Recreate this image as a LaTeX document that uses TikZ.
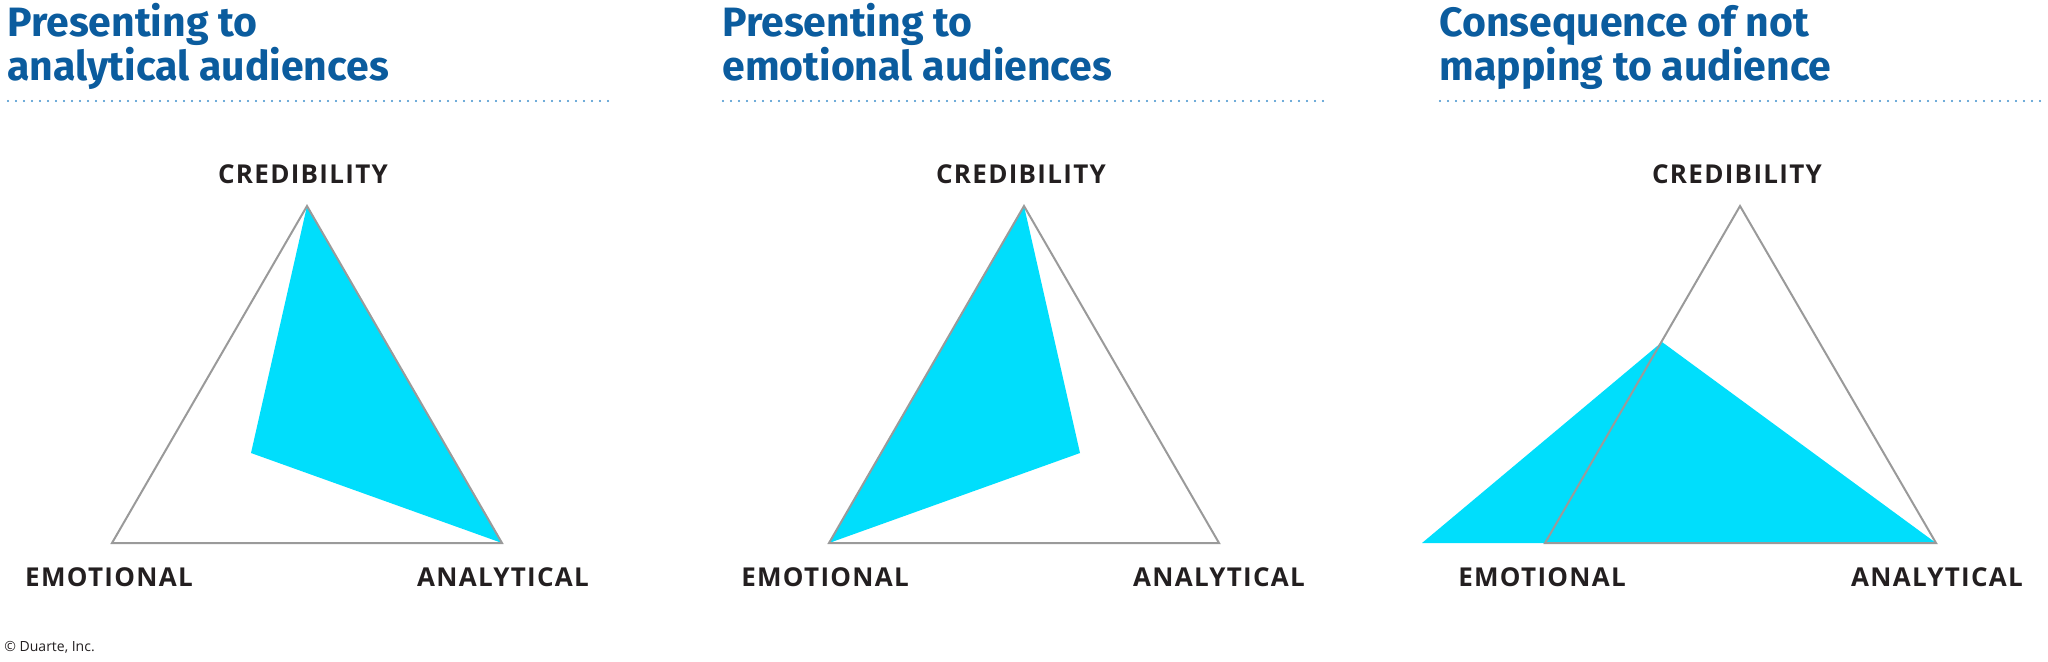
\documentclass[tikz,border=0pt]{standalone}
\usepackage{fontspec}
\setmainfont{Open Sans}
\newfontfamily\titlefont{Fira Sans}
\newfontfamily\labelfont[LetterSpace=5]{Open Sans}
\definecolor{tblue}{HTML}{0B5C9E}
\definecolor{cyanfill}{HTML}{00DEFC}
\definecolor{edgegray}{HTML}{9A9A9A}
\definecolor{dotblue}{HTML}{3E8FCB}
\definecolor{labelink}{HTML}{231F20}
\tikzset{
  title/.style={anchor=base west, inner sep=0pt, text=tblue, font=\titlefont\fontsize{20.5}{22}\selectfont\bfseries},
  axislabel/.style={anchor=base, inner sep=0pt, text=labelink, font=\labelfont\fontsize{13}{15}\selectfont\bfseries},
  dotrule/.style={dotblue, line width=1.2pt, line cap=round, dash pattern=on 0pt off 4pt},
  tri/.style={edgegray, line width=1pt, line join=miter},
  blob/.style={fill=cyanfill, draw=none},
}
\begin{document}
\begin{tikzpicture}[x=0.5pt,y=-0.5pt]
\useasboundingbox (0,0) rectangle (2048,661);
% ---------- titles ----------
\node[title] (t1a) at (7,36) {Presenting to};
\node[title] (t1b) at (7,80) {analytical audiences};
\node[title] (t2a) at (722,36) {Presenting to};
\node[title] (t2b) at (722,80) {emotional audiences};
\node[title] (t3a) at (1439,36) {Consequence of not};
\node[title] (t3b) at (1439,80) {mapping to audience};
\coordinate (d1a) at (8,101); \coordinate (d1b) at (610,101);
\coordinate (d2a) at (723,101); \coordinate (d2b) at (1328,101);
\coordinate (d3a) at (1440,101); \coordinate (d3b) at (2046,101);
\draw[dotrule] (d1a) -- (d1b);
\draw[dotrule] (d2a) -- (d2b);
\draw[dotrule] (d3a) -- (d3b);
% ---------- panel 1 ----------
\coordinate (c1) at (307,206); \coordinate (e1) at (112,543); \coordinate (a1) at (502,543);
\coordinate (p1) at (251,453);
\fill[blob] (c1) -- (a1) -- (p1) -- cycle;
\draw[tri] (c1) -- (a1) -- (e1) -- cycle;
\node[axislabel] (lc1) at (303,183) {CREDIBILITY};
\node[axislabel] (le1) at (109,586) {EMOTIONAL};
\node[axislabel] (la1) at (503,586) {ANALYTICAL};
% ---------- panel 2 ----------
\coordinate (c2) at (1024,206); \coordinate (e2) at (829,543); \coordinate (a2) at (1219,543);
\coordinate (p2) at (1080,453);
\fill[blob] (c2) -- (p2) -- (e2) -- cycle;
\draw[tri] (c2) -- (a2) -- (e2) -- cycle;
\node[axislabel] (lc2) at (1021,183) {CREDIBILITY};
\node[axislabel] (le2) at (825,586) {EMOTIONAL};
\node[axislabel] (la2) at (1219,586) {ANALYTICAL};
% ---------- panel 3 ----------
\coordinate (c3) at (1740,206); \coordinate (e3) at (1545,543); \coordinate (a3) at (1936,543);
\coordinate (q3) at (1422,543); \coordinate (p3) at (1662,342);
\fill[blob] (q3) -- (p3) -- (a3) -- cycle;
\draw[tri] (c3) -- (a3) -- (e3) -- cycle;
\node[axislabel] (lc3) at (1737,183) {CREDIBILITY};
\node[axislabel] (le3) at (1542,586) {EMOTIONAL};
\node[axislabel] (la3) at (1937,586) {ANALYTICAL};
% ---------- credit ----------
\node[anchor=base west, inner sep=0pt, text=labelink, font=\fontsize{7}{8}\selectfont] (credit) at (4,651) {© Duarte, Inc.};
\end{tikzpicture}
\end{document}
